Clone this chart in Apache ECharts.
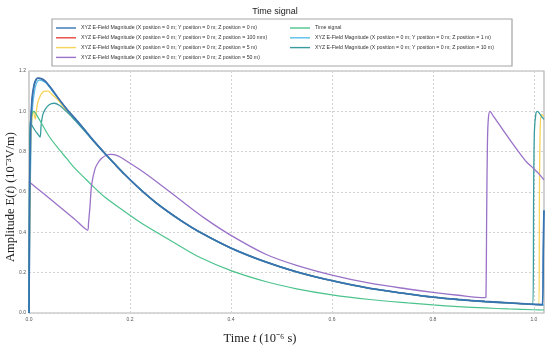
<!DOCTYPE html>
<html><head><meta charset="utf-8">
<script src="https://cdn.jsdelivr.net/npm/echarts@6/dist/echarts.min.js"></script>
<style>html,body{margin:0;padding:0;background:#fff}#c{width:550px;height:348px}</style>
</head><body><div id="c"></div>
<script>
// ---- data ----
const nameZ0 = 'XYZ E-Field Magnitude (X position = 0 m; Y position = 0 m; Z position = 0 m)';
const nameZ100 = 'XYZ E-Field Magnitude (X position = 0 m; Y position = 0 m; Z position = 100 mm)';
const nameZ5 = 'XYZ E-Field Magnitude (X position = 0 m; Y position = 0 m; Z position = 5 m)';
const nameZ50 = 'XYZ E-Field Magnitude (X position = 0 m; Y position = 0 m; Z position = 50 m)';
const nameTime = 'Time signal';
const nameZ1 = 'XYZ E-Field Magnitude (X position = 0 m; Y position = 0 m; Z position = 1 m)';
const nameZ10 = 'XYZ E-Field Magnitude (X position = 0 m; Y position = 0 m; Z position = 10 m)';

const tZ0 = [0,0.001,0.003,0.006,0.01,0.014,0.018,0.024,0.032,0.045,0.058,0.075,0.091,0.108,0.124,0.14,0.154,0.17,0.19,0.22,0.256,0.3,0.339,0.4,0.47,0.53,0.6,0.675,0.75,0.8,0.85,0.903,0.95,1.0,1.017,1.0185,1.02];
const vZ0 = [0,0.5,0.9,1.06,1.13,1.158,1.165,1.162,1.15,1.11,1.065,1.01,0.965,0.915,0.866,0.82,0.781,0.738,0.686,0.614,0.538,0.46,0.4,0.322,0.252,0.204,0.16,0.122,0.095,0.079,0.067,0.057,0.05,0.043,0.041,0.3,0.51];

const tZ100 = [0,0.0012,0.0032,0.0062,0.0102,0.0142,0.018,0.024,0.032,0.045,0.058,0.075,0.091,0.108,0.124,0.14,0.154,0.17,0.19,0.22,0.256,0.3,0.339,0.4,0.47,0.53,0.6,0.675,0.75,0.8,0.85,0.903,0.95,1.0,1.02];
const vZ100 = [0,0.5,0.9,1.06,1.13,1.158,1.165,1.162,1.15,1.11,1.065,1.01,0.965,0.915,0.866,0.82,0.781,0.738,0.686,0.614,0.538,0.46,0.4,0.322,0.252,0.204,0.16,0.122,0.095,0.079,0.067,0.057,0.05,0.043,0.041];

const tZ1 = [0,0.002,0.004,0.007,0.011,0.015,0.02,0.026,0.034,0.045,0.058,0.075,0.091,0.108,0.124,0.14,0.154,0.17,0.19,0.22,0.256,0.3,0.339,0.4,0.47,0.53,0.6,0.675,0.75,0.8,0.85,0.903,0.95,1.0,1.02];
const vZ1 = [0,0.5,0.85,1.02,1.1,1.14,1.155,1.152,1.14,1.105,1.063,1.01,0.965,0.915,0.866,0.82,0.781,0.738,0.686,0.614,0.538,0.46,0.4,0.322,0.252,0.204,0.16,0.122,0.095,0.079,0.067,0.057,0.05,0.043,0.041];

const tZ5 = [0,0.002,0.004,0.007,0.009,0.011,0.0125,0.014,0.017,0.022,0.027,0.032,0.038,0.045,0.058,0.075,0.091,0.108,0.124,0.14,0.154,0.17,0.19,0.22,0.256,0.3,0.339,0.4,0.47,0.53,0.6,0.675,0.75,0.8,0.85,0.903,0.95,1.0,1.01,1.011,1.0125,1.015,1.02];
const vZ5 = [0,0.6,0.9,0.99,1.0,0.975,0.962,0.99,1.04,1.075,1.095,1.1,1.1,1.085,1.055,1.0,0.96,0.912,0.864,0.82,0.781,0.738,0.686,0.614,0.538,0.46,0.4,0.322,0.252,0.204,0.16,0.122,0.095,0.079,0.067,0.057,0.05,0.043,0.042,0.6,0.92,0.985,0.975];

const tZ10 = [0,0.001,0.002,0.006,0.012,0.018,0.022,0.024,0.027,0.032,0.04,0.05,0.06,0.071,0.082,0.091,0.108,0.124,0.14,0.154,0.17,0.19,0.22,0.256,0.3,0.339,0.4,0.47,0.53,0.6,0.675,0.75,0.8,0.85,0.903,0.95,0.998,0.9995,1.001,1.004,1.007,1.011,1.015,1.02];
const vZ10 = [0,0.6,0.95,0.93,0.905,0.885,0.872,0.93,0.98,1.01,1.033,1.04,1.03,1.006,0.98,0.955,0.908,0.862,0.818,0.781,0.738,0.686,0.614,0.538,0.46,0.4,0.322,0.252,0.204,0.16,0.122,0.095,0.079,0.067,0.057,0.05,0.043,0.6,0.9,0.99,1.0,0.99,0.975,0.96];

const tTime = [0,0.001,0.003,0.006,0.0086,0.012,0.018,0.025,0.04,0.058,0.075,0.091,0.108,0.124,0.15,0.19,0.22,0.256,0.3,0.339,0.4,0.47,0.53,0.6,0.675,0.75,0.8,0.85,0.903,0.95,1.0,1.02];
const vTime = [0,0.6,0.93,0.985,1.0,0.995,0.97,0.94,0.875,0.816,0.765,0.717,0.675,0.635,0.575,0.502,0.45,0.395,0.33,0.275,0.21,0.155,0.12,0.09,0.067,0.05,0.04,0.032,0.025,0.02,0.016,0.015];

const tZ50 = [0,0.03,0.06,0.09,0.116,0.118,0.121,0.124,0.131,0.138,0.144,0.152,0.162,0.175,0.19,0.22,0.256,0.3,0.349,0.4,0.47,0.53,0.6,0.675,0.75,0.8,0.85,0.903,0.905,0.9065,0.908,0.91,0.913,0.92,0.939,0.955,0.972,0.985,0.999,1.01,1.02];
const vZ50 = [0.651,0.59,0.528,0.466,0.411,0.45,0.535,0.635,0.717,0.75,0.767,0.781,0.787,0.78,0.759,0.71,0.645,0.56,0.468,0.385,0.29,0.236,0.188,0.148,0.119,0.102,0.088,0.076,0.078,0.5,0.85,0.97,1.0,0.975,0.907,0.85,0.792,0.75,0.717,0.69,0.66];

const xTicks = [0, 0.2, 0.4, 0.6, 0.8, 1.0];
const yTicks = [0, 0.2, 0.4, 0.6, 0.8, 1.0, 1.2];

const colors = {
  z0: '#3674b3', z100: '#e5473e', z5: '#f8d35a', z50: '#9a72c8',
  time: '#4cc38d', z1: '#5bbfe9', z10: '#389c9e'
};

function pairs(t, v) { return t.map((x, i) => [x, v[i]]); }

function mkSeries(name, t, v, color, width) {
  return {
    name, type: 'line', data: pairs(t, v), symbol: 'none', showSymbol: false,
    lineStyle: { color, width }, itemStyle: { color },
    smooth: 0.3,
    animation: false, clip: true
  };
}

const chart = echarts.init(document.getElementById('c'), null, { renderer: 'canvas' });
const legendText = { fontSize: 5.2, color: '#333', fontFamily: 'Liberation Sans, Arial, sans-serif', lineHeight: 6 };
const legendCommon = {
  orient: 'vertical', top: 25, icon: 'rect', itemWidth: 20, itemHeight: 1.4,
  itemGap: 3.8, padding: 0, textStyle: legendText
};
chart.setOption({
  backgroundColor: '#fff',
  animation: false,
  title: {
    text: 'Time signal', left: 'center', top: 2,
    textStyle: { fontSize: 9, fontWeight: 'normal', color: '#222', fontFamily: 'Liberation Sans, Arial, sans-serif' }
  },
  graphic: [{
    type: 'rect', shape: { x: 52, y: 19, width: 460, height: 47 },
    style: { fill: 'none', stroke: '#a6a6a6', lineWidth: 1.2 }, silent: true
  }],
  legend: [
    Object.assign({ data: [nameZ0, nameZ100, nameZ5, nameZ50], left: 56 }, legendCommon),
    Object.assign({ data: [nameTime, nameZ1, nameZ10], left: 290 }, legendCommon)
  ],
  grid: {
    left: 29, right: 6, top: 71, bottom: 35, containLabel: false, outerBoundsMode: 'none',
    show: true, borderColor: '#b4b4b4', borderWidth: 1.2, backgroundColor: 'transparent'
  },
  xAxis: {
    type: 'value', min: xTicks[0], max: 1.02, interval: 0.2,
    name: 'Time {i|t} (10⁻⁶ s)', nameLocation: 'middle', nameGap: 19, nameMoveOverlap: false,
    nameTextStyle: {
      fontFamily: 'Liberation Serif, serif', fontSize: 12.5, color: '#222', padding: [0, 53, 0, 0],
      rich: { i: { fontStyle: 'italic', fontFamily: 'Liberation Serif, serif', fontSize: 12.5, color: '#222' } }
    },
    axisLine: { show: false }, axisTick: { show: false },
    axisLabel: { fontSize: 5, color: '#555', margin: 4, showMaxLabel: false, formatter: v => v.toFixed(1) },
    splitLine: { show: true, lineStyle: { color: '#d2d2d2', type: [2, 2], width: 1 } }
  },
  yAxis: {
    type: 'value', min: yTicks[0], max: yTicks[yTicks.length - 1], interval: 0.2,
    name: 'Amplitude E({i|t}) (10⁻³V/m)', nameLocation: 'middle', nameGap: 12, nameMoveOverlap: false,
    nameTextStyle: {
      fontFamily: 'Liberation Serif, serif', fontSize: 12.5, color: '#222', padding: [0, 10, 0, 0],
      rich: { i: { fontStyle: 'italic', fontFamily: 'Liberation Serif, serif', fontSize: 12.5, color: '#222' } }
    },
    axisLine: { show: false }, axisTick: { show: false },
    axisLabel: { fontSize: 5, color: '#555', margin: 3, formatter: v => v.toFixed(1) },
    splitLine: { show: true, lineStyle: { color: '#d2d2d2', type: [2, 2], width: 1 } }
  },
  series: [
    mkSeries(nameZ100, tZ100, vZ100, colors.z100, 1.2),
    mkSeries(nameZ1, tZ1, vZ1, colors.z1, 1.3),
    mkSeries(nameZ5, tZ5, vZ5, colors.z5, 1.3),
    mkSeries(nameZ10, tZ10, vZ10, colors.z10, 1.3),
    mkSeries(nameTime, tTime, vTime, colors.time, 1.2),
    mkSeries(nameZ50, tZ50, vZ50, colors.z50, 1.3),
    mkSeries(nameZ0, tZ0, vZ0, colors.z0, 1.8)
  ]
});
</script></body></html>
